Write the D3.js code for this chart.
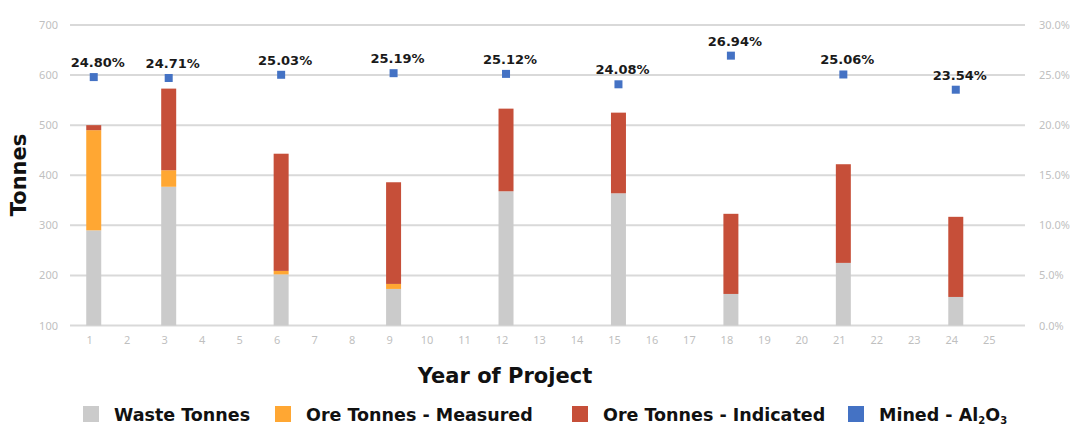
<!DOCTYPE html>
<html>
<head>
<meta charset="utf-8">
<script src="https://cdn.jsdelivr.net/npm/d3@7"></script>
<style>
  body { margin: 0; background: #fff; }
  svg text { font-family: "DejaVu Sans", sans-serif; }
</style>
</head>
<body>
<div id="chart"></div>
<script>
// ---- data ----
const years = d3.range(1, 26);            // x categories 1..25
const minedYears = [1, 3, 6, 9, 12, 15, 18, 21, 24];
const wasteTonnes = [290, 377, 202, 173, 368, 364, 163, 225, 157];
const oreMeasured = [200, 33, 7, 10, 0, 0, 0, 0, 0];
const oreIndicated = [10, 163, 234, 203, 165, 161, 160, 197, 160];
const al2o3 = [24.80, 24.71, 25.03, 25.19, 25.12, 24.08, 26.94, 25.06, 23.54];
const leftTicks = [100, 200, 300, 400, 500, 600, 700];
const rightTicks = [0, 5, 10, 15, 20, 25, 30];

const colors = {waste: "#cbcbcb", measured: "#ffa733", indicated: "#c64f39", al: "#4472c4"};

const W = 1072, H = 428;
const svg = d3.select("#chart").append("svg")
    .attr("width", W).attr("height", H);

// scales
const x = d3.scaleBand()
    .domain(years)
    .range([75, 1012])
    .paddingInner(0.6)
    .paddingOuter(0.3);

const y = d3.scaleLinear().domain([100, 700]).range([325.5, 25]);
const y2 = d3.scaleLinear().domain([0, 30]).range([325.5, 25]);

// gridlines
svg.append("g").selectAll("line")
    .data(leftTicks)
    .join("line")
    .attr("x1", 70).attr("x2", 1025)
    .attr("y1", d => y(d)).attr("y2", d => y(d))
    .attr("stroke", "#d9d9d9")
    .attr("stroke-width", 2);

// left axis
const yAxis = d3.axisLeft(y).tickValues(leftTicks).tickSize(0).tickPadding(0);
svg.append("g")
    .attr("transform", "translate(58,0)")
    .call(yAxis)
    .call(g => g.select(".domain").remove())
    .selectAll("text")
    .attr("fill", "#bfbfbf")
    .style("font-family", "'Noto Sans', sans-serif")
    .style("font-size", "11px");

// right axis
const y2Axis = d3.axisRight(y2).tickValues(rightTicks).tickSize(0).tickPadding(0)
    .tickFormat(d => d.toFixed(1) + "%");
svg.append("g")
    .attr("transform", "translate(1039,0)")
    .call(y2Axis)
    .call(g => g.select(".domain").remove())
    .selectAll("text")
    .attr("fill", "#bfbfbf")
    .style("font-family", "'Noto Sans', sans-serif")
    .style("font-size", "11px");

// x axis
const xAxis = d3.axisBottom(x).tickSize(0).tickPadding(0);
svg.append("g")
    .attr("transform", "translate(-4,336)")
    .call(xAxis)
    .call(g => g.select(".domain").remove())
    .selectAll("text")
    .attr("fill", "#bfbfbf")
    .style("font-family", "'Noto Sans', sans-serif")
    .style("font-size", "11px");

// stacked bars
const rows = minedYears.map((yr, i) => ({
    year: yr,
    parts: [
        {key: "waste", y0: 100, y1: wasteTonnes[i]},
        {key: "measured", y0: wasteTonnes[i], y1: wasteTonnes[i] + oreMeasured[i]},
        {key: "indicated", y0: wasteTonnes[i] + oreMeasured[i], y1: wasteTonnes[i] + oreMeasured[i] + oreIndicated[i]}
    ]
}));

const barG = svg.append("g").selectAll("g")
    .data(rows)
    .join("g")
    .attr("transform", d => `translate(${x(d.year)},0)`);

barG.selectAll("rect")
    .data(d => d.parts.filter(p => p.y1 > p.y0))
    .join("rect")
    .attr("x", 0)
    .attr("width", x.bandwidth())
    .attr("y", p => y(p.y1))
    .attr("height", p => y(p.y0) - y(p.y1))
    .attr("fill", p => colors[p.key]);

// Al2O3 markers + labels
const pts = minedYears.map((yr, i) => ({year: yr, v: al2o3[i]}));
const cx = d => x(d.year) + x.bandwidth() / 2;

svg.append("g").selectAll("rect")
    .data(pts)
    .join("rect")
    .attr("x", d => cx(d) - 4)
    .attr("y", d => y2(d.v) - 4)
    .attr("width", 8).attr("height", 8)
    .attr("fill", colors.al);

svg.append("g").selectAll("text")
    .data(pts)
    .join("text")
    .attr("x", d => cx(d) + 4)
    .attr("y", d => y2(d.v) - 10)
    .attr("text-anchor", "middle")
    .attr("font-size", 13)
    .attr("font-weight", "bold")
    .attr("fill", "#1a1a1a")
    .text(d => d.v.toFixed(2) + "%");

// axis titles
svg.append("text")
    .attr("transform", "translate(26,175) rotate(-90)")
    .attr("text-anchor", "middle")
    .attr("font-size", 21)
    .attr("font-weight", "bold")
    .attr("fill", "#111")
    .text("Tonnes");

svg.append("text")
    .attr("x", 505).attr("y", 383)
    .attr("text-anchor", "middle")
    .attr("font-size", 21)
    .attr("font-weight", "bold")
    .attr("fill", "#111")
    .text("Year of Project");

// legend
const legend = [
    {key: "waste", label: "Waste Tonnes", x: 83},
    {key: "measured", label: "Ore Tonnes - Measured", x: 275},
    {key: "indicated", label: "Ore Tonnes - Indicated", x: 572},
    {key: "al", label: null, x: 848}
];
const lg = svg.append("g").selectAll("g")
    .data(legend)
    .join("g")
    .attr("transform", d => `translate(${d.x},406)`);

lg.append("rect")
    .attr("width", 16).attr("height", 16)
    .attr("fill", d => colors[d.key]);

const lt = lg.append("text")
    .attr("x", 31).attr("y", 15)
    .attr("font-size", 17.5)
    .attr("font-weight", "bold")
    .attr("fill", "#111");

lt.filter(d => d.label).text(d => d.label);
lt.filter(d => !d.label).each(function() {
    const t = d3.select(this);
    t.append("tspan").text("Mined - Al");
    t.append("tspan").attr("dy", 3).attr("font-size", 10).text("2");
    t.append("tspan").attr("dy", -3).text("O");
    t.append("tspan").attr("dy", 3).attr("font-size", 10).text("3");
});
</script>
</body>
</html>
